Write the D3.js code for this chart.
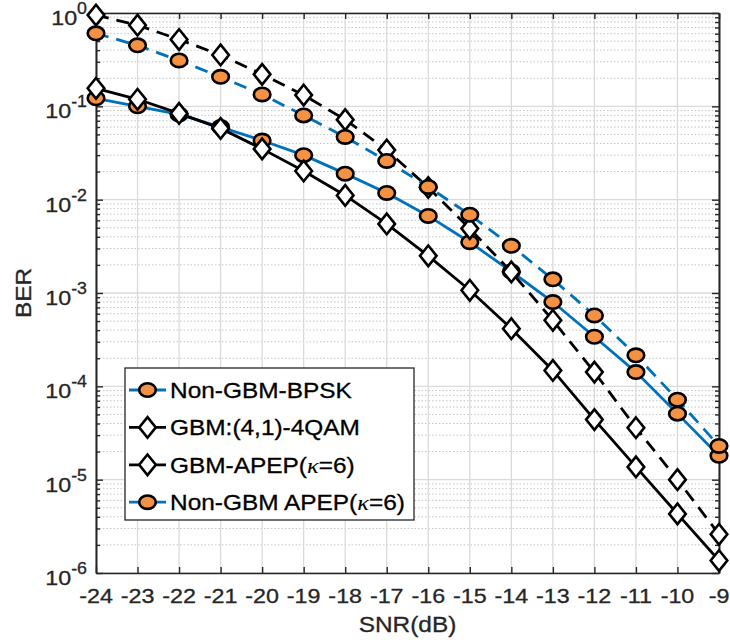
<!DOCTYPE html>
<html>
<head>
<meta charset="utf-8">
<script src="https://cdn.jsdelivr.net/npm/d3@7/dist/d3.min.js"></script>
<style>
  body { margin: 0; background: #fff; }
  text { font-family: "Liberation Sans", Arial, Helvetica, sans-serif; fill: #262626; stroke: #262626; stroke-width: 0.3px; }
</style>
</head>
<body>
<script>
// data
var snr = [-24, -23, -22, -21, -20, -19, -18, -17, -16, -15, -14, -13, -12, -11, -10, -9];
var nonGbmBpsk = [0.122, 0.1, 0.082, 0.06, 0.043, 0.030, 0.019, 0.0118, 0.0067, 0.0035, 0.0017, 8e-4, 3.4e-4, 1.42e-4, 5.1e-5, 1.8e-5];
var gbmQam = [0.95, 0.74, 0.52, 0.355, 0.22, 0.132, 0.072, 0.034, 0.0135, 0.0049, 0.00168, 5.1e-4, 1.42e-4, 3.6e-5, 1e-5, 2.6e-6];
var gbmApep = [0.156, 0.119, 0.084, 0.058, 0.035, 0.0203, 0.0111, 0.0055, 0.0025, 0.00107, 4.15e-4, 1.48e-4, 4.4e-5, 1.37e-5, 4.3e-6, 1.36e-6];
var nonGbmApep = [0.605, 0.45, 0.31, 0.207, 0.134, 0.08, 0.047, 0.026, 0.0137, 0.0069, 0.0032, 0.0014, 5.75e-4, 2.15e-4, 7.2e-5, 2.3e-5];
var yTickExps = [0, -1, -2, -3, -4, -5, -6];
var legendNames = ['Non-GBM-BPSK', 'GBM:(4,1)-4QAM', 'GBM-APEP(κ=6)', 'Non-GBM APEP(κ=6)'];

var blue = '#0072BD', orange = '#F59142', axisCol = '#262626';
var sx = 1.11; // text is a bit wider than tall in the figure

var svg = d3.select('body').append('svg')
    .attr('width', 730)
    .attr('height', 644);

//scales
var x = d3.scaleLinear().domain([-24, -9]).range([96, 719]);
var y = d3.scaleLog().domain([1e-6, 1]).range([573, 13]);

var minors = [];
yTickExps.slice(1).forEach(function (e) {
    for (var k = 2; k <= 9; k++) minors.push(k * Math.pow(10, e));
});
var majors = yTickExps.map(function (e) { return Math.pow(10, e); });

//grid
var grid = svg.append('g');
grid.selectAll('.mg').data(minors).enter().append('line')
    .attr('x1', 96).attr('x2', 719)
    .attr('y1', function (d) { return y(d); }).attr('y2', function (d) { return y(d); })
    .style('stroke', '#c4c4c4').style('stroke-width', 1).style('stroke-dasharray', '1.5,2');
grid.selectAll('.vg').data(snr).enter().append('line')
    .attr('x1', function (d) { return x(d); }).attr('x2', function (d) { return x(d); })
    .attr('y1', 13).attr('y2', 573)
    .style('stroke', '#dadada').style('stroke-width', 1.3);
grid.selectAll('.hg').data(majors).enter().append('line')
    .attr('x1', 96).attr('x2', 719)
    .attr('y1', function (d) { return y(d); }).attr('y2', function (d) { return y(d); })
    .style('stroke', '#dadada').style('stroke-width', 1.3);

//axes (ticks point inward)
function styleAxis(g) {
    g.selectAll('path,line').style('stroke', axisCol).style('stroke-width', 1.4);
    g.select('.domain').style('stroke-width', 1.6);
}
svg.append('g').attr('transform', 'translate(0,573)')
    .call(d3.axisBottom(x).tickValues(snr).tickSize(-6).tickSizeOuter(0).tickPadding(15).tickFormat(''))
    .call(styleAxis);
svg.append('g').attr('transform', 'translate(0,13)')
    .call(d3.axisTop(x).tickValues(snr).tickSize(-6).tickSizeOuter(0).tickFormat(''))
    .call(styleAxis);
svg.append('g').attr('transform', 'translate(96,0)')
    .call(d3.axisLeft(y).tickValues(majors).tickSize(-7).tickSizeOuter(0).tickFormat(''))
    .call(styleAxis);
svg.append('g').attr('transform', 'translate(96,0)')
    .call(d3.axisLeft(y).tickValues(minors).tickSize(-4).tickSizeOuter(0).tickFormat(''))
    .call(styleAxis);
svg.append('g').attr('transform', 'translate(719,0)')
    .call(d3.axisRight(y).tickValues(majors).tickSize(-7).tickSizeOuter(0).tickFormat(''))
    .call(styleAxis);
svg.append('g').attr('transform', 'translate(719,0)')
    .call(d3.axisRight(y).tickValues(minors).tickSize(-4).tickSizeOuter(0).tickFormat(''))
    .call(styleAxis);

//tick labels
svg.append('g').selectAll('text').data(snr).enter().append('text')
    .attr('transform', function (d) { return 'translate(' + x(d) + ',603) scale(' + sx + ',1)'; })
    .attr('text-anchor', 'middle')
    .style('font-size', '21px')
    .text(function (d) { return d; });

var yl = svg.append('g').selectAll('text').data(yTickExps).enter().append('text')
    .attr('transform', function (d) { return 'translate(87,' + (y(Math.pow(10, d)) + 12) + ') scale(' + sx + ',1)'; })
    .attr('text-anchor', 'end')
    .style('font-size', '21px');
yl.append('tspan').text('10');
yl.append('tspan').attr('dy', -11).style('font-size', '16px').text(function (d) { return d; });

//axis titles
svg.append('text')
    .attr('transform', 'translate(31,293) rotate(-90) scale(' + sx + ',1)')
    .attr('text-anchor', 'middle')
    .style('font-size', '22px')
    .text('BER');
svg.append('text')
    .attr('transform', 'translate(407.5,632) scale(' + sx + ',1)')
    .attr('text-anchor', 'middle')
    .style('font-size', '22px')
    .text('SNR(dB)');

//series
var series = [
    { vals: nonGbmBpsk, color: blue, dash: null, mark: 'circle' },
    { vals: gbmQam, color: 'black', dash: '13,8', mark: 'diamond' },
    { vals: gbmApep, color: 'black', dash: null, mark: 'diamond' },
    { vals: nonGbmApep, color: blue, dash: '13,8', mark: 'circle' }
];

function marker(g, type, cx, cy) {
    if (type === 'circle') {
        g.append('ellipse')
            .attr('cx', cx).attr('cy', cy).attr('rx', 8.3).attr('ry', 6.7)
            .style('fill', orange).style('stroke', 'black').style('stroke-width', 2.6);
    } else {
        g.append('path')
            .attr('d', 'M' + cx + ',' + (cy - 10.3) + 'L' + (cx + 8.3) + ',' + cy + 'L' + cx + ',' + (cy + 10.3) + 'L' + (cx - 8.3) + ',' + cy + 'Z')
            .style('fill', 'white').style('stroke', 'black').style('stroke-width', 2.6)
            .style('stroke-linejoin', 'miter');
    }
}

var line = d3.line()
    .x(function (d) { return x(d[0]); })
    .y(function (d) { return y(d[1]); });

series.forEach(function (s) {
    var pts = snr.map(function (v, i) { return [v, s.vals[i]]; });
    var g = svg.append('g');
    g.append('path')
        .attr('d', line(pts))
        .style('fill', 'none')
        .style('stroke', s.color)
        .style('stroke-width', 2.8)
        .style('stroke-dasharray', s.dash);
    pts.forEach(function (p) { marker(g, s.mark, x(p[0]), y(p[1])); });
});

//legend (short samples look solid)
var leg = svg.append('g');
leg.append('rect')
    .attr('x', 125).attr('y', 368).attr('width', 289).attr('height', 152)
    .style('fill', 'white').style('stroke', axisCol).style('stroke-width', 1.3);

series.forEach(function (s, i) {
    var ly = 390 + i * 37.4;
    leg.append('line')
        .attr('x1', 129).attr('x2', 166).attr('y1', ly).attr('y2', ly)
        .style('stroke', s.color).style('stroke-width', 2.8);
    marker(leg, s.mark, 147.5, ly);
    var t = leg.append('text')
        .attr('transform', 'translate(170,' + (ly + 8) + ') scale(' + sx + ',1)')
        .style('font-size', '22px')
        .style('fill', '#000').style('stroke', '#000');
    var parts = legendNames[i].split('κ');
    t.append('tspan').text(parts[0]);
    if (parts.length > 1) {
        t.append('tspan').style('font-family', '"Liberation Serif", "DejaVu Serif", serif')
            .style('font-style', 'italic').style('stroke-width', '0.1px').text('κ');
        t.append('tspan').text(parts[1]);
    }
});
</script>
</body>
</html>
